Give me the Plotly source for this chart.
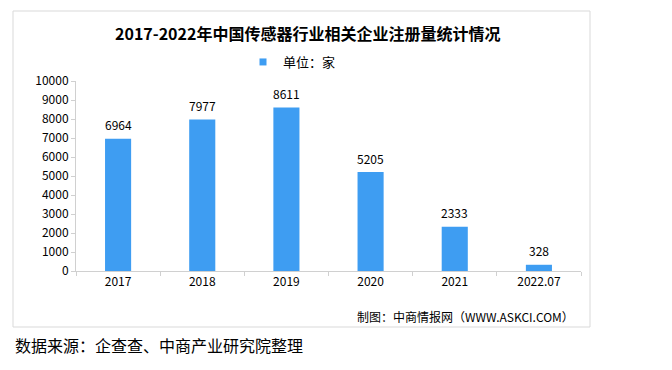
import plotly.graph_objects as go

categories = ["2017", "2018", "2019", "2020", "2021", "2022.07"]
values = [6964, 7977, 8611, 5205, 2333, 328]
series_name = "单位：家"
y_ticks = list(range(0, 10001, 1000))
y_tick_labels = [str(v) for v in y_ticks]

title_text = "2017-2022年中国传感器行业相关企业注册量统计情况"
credit_text = "制图：中商情报网（WWW.ASKCI.COM）"
source_text = "数据来源：企查查、中商产业研究院整理"

W, H = 672, 370
O = 8  # page body offset
# plot area in page pixels: x 76..581, y 81..271
L = 76 - O
R = W - (581 - O)
T = 81 - O
B = H - (271 - O)
pw, ph = W - L - R, H - T - B

def px_x(x):
    return (x - O - L) / pw

def px_y(y):
    return (H - B - (y - O)) / ph

font_cn = "Noto Sans CJK SC, DejaVu Sans, sans-serif"
bar_color = "#3E9DF2"

fig = go.Figure()
fig.add_trace(go.Bar(
    x=categories, y=values, name=series_name,
    marker=dict(color=bar_color, line=dict(width=0)),
    width=0.31,
    showlegend=False,
))
# legend entry with a small square like the reference
fig.add_trace(go.Scatter(
    x=[categories[0]], y=[None], mode="markers", name=series_name,
    marker=dict(symbol="square", size=7, color=bar_color),
    showlegend=True, hoverinfo="skip",
))

# value labels above bars (category axis positions are indices)
for i, v in enumerate(values):
    fig.add_annotation(x=i, y=v, text=str(v), showarrow=False,
                       xanchor="center", yanchor="middle", yshift=14,
                       font=dict(size=12, color="#000000", family=font_cn))

fig.update_layout(
    width=W, height=H,
    margin=dict(l=L, r=R, t=T, b=B),
    paper_bgcolor="white", plot_bgcolor="white",
    font=dict(family=font_cn, color="#000000", size=12),
    showlegend=True,
    legend=dict(orientation="h", x=px_x(283 - 40), xanchor="left",
                y=px_y(62), yanchor="middle",
                font=dict(size=13, family=font_cn), itemwidth=30,
                bgcolor="rgba(0,0,0,0)", borderwidth=0),
    xaxis=dict(type="category", categoryorder="array", categoryarray=categories,
               range=[-0.5, len(categories) - 0.5],
               showline=True, linecolor="#D0D0D0", linewidth=1,
               ticks="outside", tickson="boundaries", ticklen=4, tickcolor="#D0D0D0",
               tickfont=dict(size=12, family=font_cn), showgrid=False, tickangle=0),
    yaxis=dict(range=[0, 10000], tickvals=y_ticks, ticktext=y_tick_labels,
               showline=True, linecolor="#D0D0D0", linewidth=1, ticks="outside",
               ticklen=4, tickcolor="#D0D0D0", showgrid=False, zeroline=False,
               tickfont=dict(size=12, family=font_cn)),
    bargap=0.69,
)

fig.add_shape(type="rect", xref="paper", yref="paper",
              x0=px_x(13), x1=px_x(590), y0=px_y(327), y1=px_y(11),
              line=dict(color="#D9D9D9", width=1), fillcolor="rgba(0,0,0,0)", layer="below")

fig.add_annotation(text="<b>" + title_text + "</b>", xref="paper", yref="paper",
                   x=px_x(307), y=px_y(33), xanchor="center", yanchor="middle",
                   showarrow=False, font=dict(size=16, family=font_cn, color="#000000"))
fig.add_annotation(text=credit_text, xref="paper", yref="paper",
                   x=px_x(576), y=px_y(316), xanchor="right", yanchor="middle",
                   showarrow=False, font=dict(size=12, family=font_cn, color="#000000"))
fig.add_annotation(text=source_text, xref="paper", yref="paper",
                   x=px_x(13), y=px_y(345), xanchor="left", yanchor="middle",
                   showarrow=False, font=dict(size=16, family=font_cn, color="#000000"))

fig.write_html("out.html")
